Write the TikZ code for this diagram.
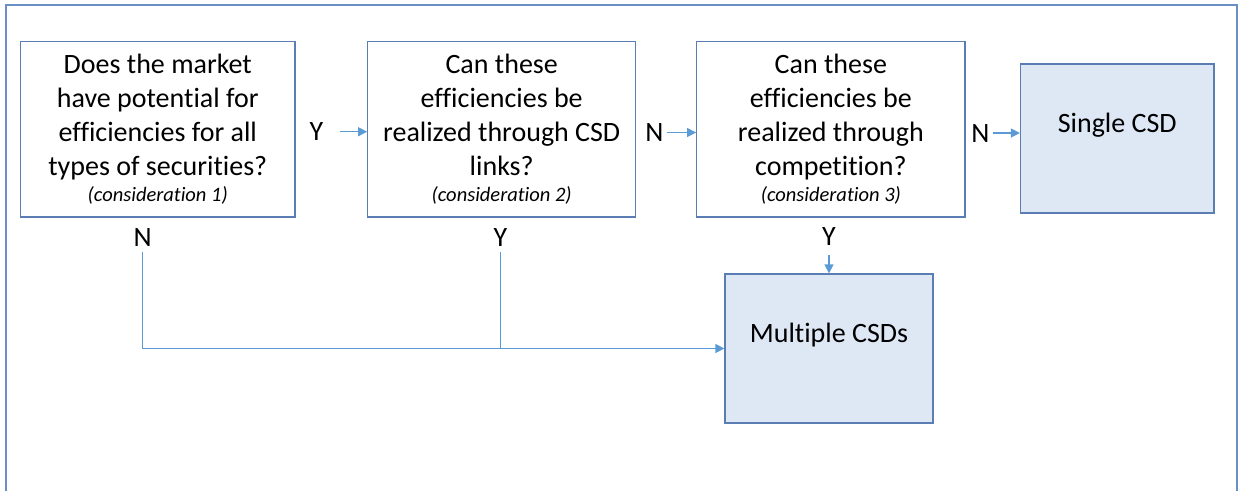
\documentclass[tikz,border=0pt]{standalone}
\usepackage{fontspec}
\setmainfont{Carlito}[Ligatures=NoCommon]
\usetikzlibrary{arrows.meta}
\definecolor{boxline}{HTML}{5A7DB3}
\definecolor{arrowc}{HTML}{5B9BD5}
\definecolor{fillc}{HTML}{DEE8F4}
\definecolor{framec}{HTML}{6A8FC6}
\newcommand{\cons}[1]{{\fontsize{20.5}{26}\selectfont\itshape #1}}
\begin{document}
\begin{tikzpicture}[x=1pt,y=-1pt,
  qbox/.style={draw=boxline,line width=1.2pt,inner sep=0pt,align=center,
    font=\fontsize{28}{34}\selectfont,minimum height=175.5pt},
  endbox/.style={draw=boxline,fill=fillc,line width=1.2pt,inner sep=0pt,
    font=\fontsize{28}{34}\selectfont,minimum height=149pt,text depth=32pt},
  lab/.style={font=\fontsize{28}{34}\selectfont,inner sep=0pt,anchor=base},
  arr/.style={draw=arrowc,line width=1.2pt,-{Triangle[length=9pt,width=9pt]}},
  conn/.style={draw=arrowc,line width=1.2pt}]
\useasboundingbox (0,0) rectangle (1238,491);
\draw[framec,line width=2pt] (6,491) -- (6,5) -- (1237,5) -- (1237,491);

\node[qbox,minimum width=274.5pt] (b1) at (157.75,129.25)
  {Does the market\\have potential for\\efficiencies for all\\types of securities?\\[-8pt]\cons{(consideration 1)}};
\node[qbox,minimum width=268pt] (b2) at (501.7,129.25)
  {Can these\\efficiencies be\\realized through CSD\\links?\\[-8pt]\cons{(consideration 2)}};
\node[qbox,minimum width=268.3pt] (b3) at (830.85,129.25)
  {Can these\\efficiencies be\\realized through\\competition?\\[-8pt]\cons{(consideration 3)}};
\node[endbox,minimum width=193.5pt] (single) at (1117.25,138.5) {Single CSD};
\node[endbox,minimum width=208pt] (multi) at (829,348.5) {Multiple CSDs};

\node[lab] (y1) at (316.5,140.7) {Y};
\node[lab] (n2) at (654.5,141.5) {N};
\node[lab] (n3) at (980.3,142) {N};
\node[lab] (y3) at (829,245) {Y};
\node[lab] (n1) at (142.7,246.7) {N};
\node[lab] (y2) at (500.5,246.7) {Y};

\draw[arr] ([xshift=16pt]y1.east) -- (y1.east -| b2.west);
\draw[arr] ([xshift=3pt]n2.east) -- (n2.east -| b3.west);
\draw[arr] ([xshift=3.5pt]n3.east) -- (n3.east -| single.west);
\draw[arr] ([yshift=-10pt]y3.south) -- (multi.north);
\draw[arr] ([yshift=-5.5pt]n1.south) |- (multi.west);
\draw[conn] ([yshift=-5.5pt]y2.south) -- (y2.south |- multi.west);
\end{tikzpicture}
\end{document}
